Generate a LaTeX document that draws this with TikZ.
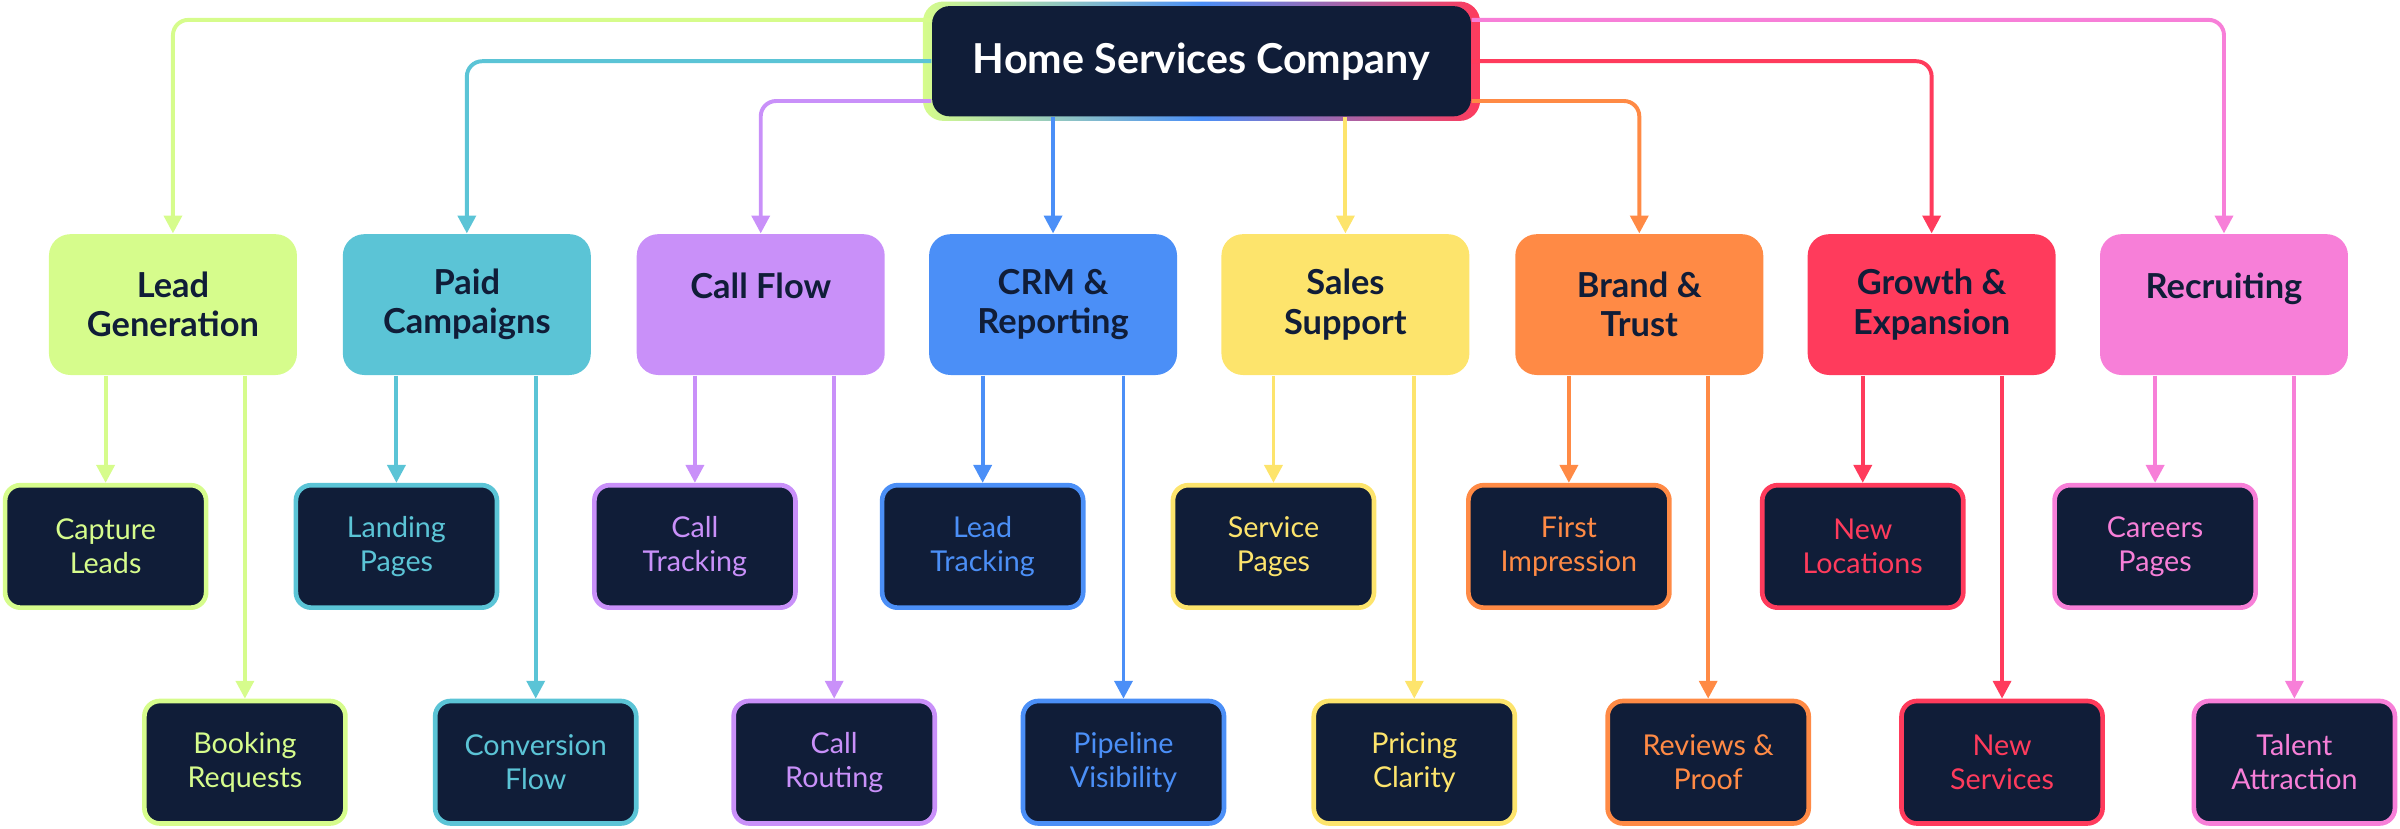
\documentclass[tikz,border=0pt]{standalone}
\usepackage{fontspec}
\setmainfont{Lato}
\usetikzlibrary{calc,arrows.meta}
\definecolor{navy}{HTML}{101D38}
\definecolor{cLead}{HTML}{D6FC8C}
\definecolor{cPaid}{HTML}{5BC4D6}
\definecolor{cCall}{HTML}{C990F9}
\definecolor{cCrm}{HTML}{4B8FF7}
\definecolor{cSales}{HTML}{FDE46C}
\definecolor{cBrand}{HTML}{FF8A45}
\definecolor{cGrowth}{HTML}{FF3B5C}
\definecolor{cRecr}{HTML}{F77FD8}
\begin{document}
\begin{tikzpicture}[x=0.015cm,y=-0.015cm,>={Triangle[length=5pt,width=5pt]},
  topic/.style={fill=#1,rounded corners=0.21cm,minimum width=2.43cm,minimum height=1.38cm,
    align=center,text=navy,font=\bfseries\fontsize{9.6}{11}\selectfont,inner sep=1pt},
  leaf/.style={draw=#1,line width=1.3pt,fill=navy,rounded corners=0.15cm,minimum width=1.97cm,
    minimum height=1.2cm,align=center,text=#1,font=\fontsize{8}{9.4}\selectfont,inner sep=1pt},
  link/.style={draw=#1,line width=1.1pt,->,rounded corners=0.15cm}]
%%
  \useasboundingbox (0,0) rectangle (1568,541);
  \shade[left color=cLead,right color=cGrowth,middle color=cCrm,rounded corners=0.2cm] (603,1) rectangle (967,79);
  \node (node_root) at (785,40) [fill=navy,rounded corners=0.17cm,minimum width=5.28cm,minimum height=1.08cm,
    text=white,font=\bfseries\fontsize{11.5}{13}\selectfont] {Home Services Company};

  \node (node_lead) at (113,199) [topic=cLead] {Lead\\Generation};
  \node (node_paid) at (305,199) [topic=cPaid] {Paid\\Campaigns};
  \node (node_call) at (497,199) [topic=cCall] {Call Flow\\[-4pt]\strut};
  \node (node_crm) at (688,199) [topic=cCrm] {CRM \&\\Reporting};
  \node (node_sales) at (879,199) [topic=cSales] {Sales\\Support};
  \node (node_brand) at (1071,199) [topic=cBrand] {Brand \&\\Trust};
  \node (node_growth) at (1262,199) [topic=cGrowth] {Growth \&\\Expansion};
  \node (node_recr) at (1453,199) [topic=cRecr] {Recruiting\\[-4pt]\strut};

  \node (node_capture) at (69,357) [leaf=cLead] {Capture\\Leads};
  \node (node_booking) at (160,498) [leaf=cLead] {Booking\\Requests};
  \node (node_landing) at (259,357) [leaf=cPaid] {Landing\\Pages};
  \node (node_conv) at (350,498) [leaf=cPaid] {Conversion\\Flow};
  \node (node_track) at (454,357) [leaf=cCall] {Call\\Tracking};
  \node (node_route) at (545,498) [leaf=cCall] {Call\\Routing};
  \node (node_ltrack) at (642,357) [leaf=cCrm] {Lead\\Tracking};
  \node (node_pipe) at (734,498) [leaf=cCrm] {Pipeline\\Visibility};
  \node (node_service) at (832,357) [leaf=cSales] {Service\\Pages};
  \node (node_price) at (924,498) [leaf=cSales] {Pricing\\Clarity};
  \node (node_first) at (1025,357) [leaf=cBrand] {First\\Impression};
  \node (node_review) at (1116,498) [leaf=cBrand] {Reviews \&\\Proof};
  \node (node_loc) at (1217,357) [leaf=cGrowth] {New\\Locations};
  \node (node_new) at (1308,498) [leaf=cGrowth] {New\\Services};
  \node (node_careers) at (1408,357) [leaf=cRecr] {Careers\\Pages};
  \node (node_talent) at (1499,498) [leaf=cRecr] {Talent\\Attraction};

  \draw [link=cLead] ($(node_root.west)+(0,-27)$) -| (node_lead);
  \draw [link=cPaid] (node_root.west) -| (node_paid);
  \draw [link=cCall] ($(node_root.west)+(0,26)$) -| (node_call);
  \draw [link=cCrm] (node_root.south -| node_crm) -- (node_crm);
  \draw [link=cSales] (node_root.south -| node_sales) -- (node_sales);
  \draw [link=cBrand] ($(node_root.east)+(0,26)$) -| (node_brand);
  \draw [link=cGrowth] (node_root.east) -| (node_growth);
  \draw [link=cRecr] ($(node_root.east)+(0,-27)$) -| (node_recr);
%
  \foreach \p/\a/\b/\c in {lead/capture/booking/cLead,paid/landing/conv/cPaid,call/track/route/cCall,
      crm/ltrack/pipe/cCrm,sales/service/price/cSales,brand/first/review/cBrand,
      growth/loc/new/cGrowth,recr/careers/talent/cRecr}{
    \draw [link=\c] (node_\p.south -| node_\a) -- (node_\a);
    \draw [link=\c] (node_\p.south -| node_\b) -- (node_\b);
  }
%
\end{tikzpicture}
\end{document}
